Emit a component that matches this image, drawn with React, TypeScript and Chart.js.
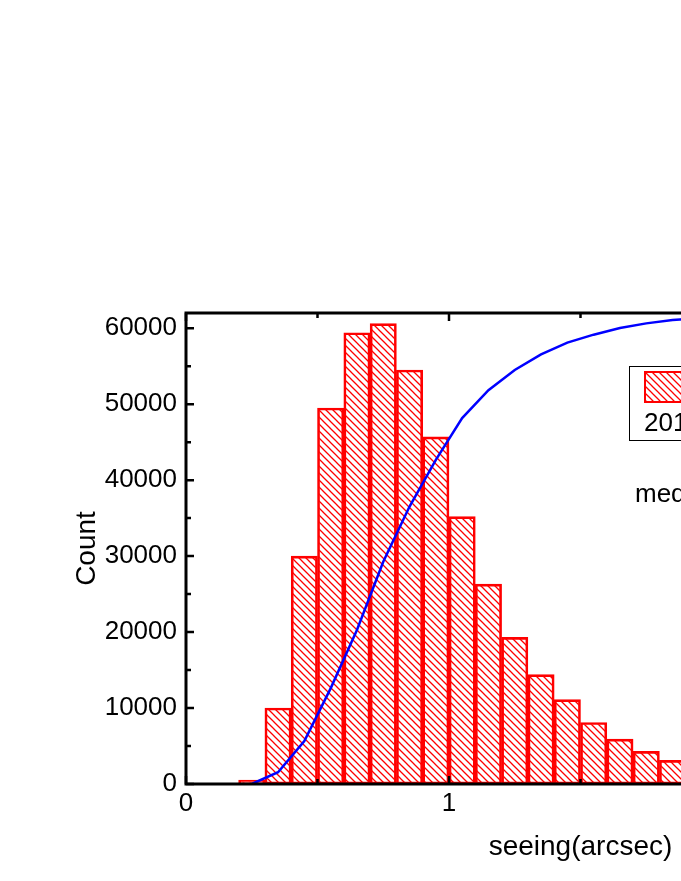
import React, { useEffect, useRef } from "react";
import { Chart, registerables } from "chart.js";

Chart.register(...registerables);

// ---- data ----
const binCenters = [
  0.25, 0.35, 0.45, 0.55, 0.65, 0.75, 0.85, 0.95, 1.05, 1.15, 1.25, 1.35, 1.45, 1.55,
  1.65, 1.75, 1.85, 1.95, 2.05, 2.15, 2.25, 2.35, 2.45, 2.55, 2.65, 2.75, 2.85, 2.95,
];
const counts = [
  500, 10000, 30000, 49500, 59400, 60600, 54500, 45700, 35200, 26300, 19300, 14400, 11100, 8100,
  5900, 4300, 3100, 2300, 1700, 1300, 1000, 750, 550, 400, 300, 250, 200, 150,
];
const cumulativePercent = [
  0, 2.5, 9.1, 20.3, 32.7, 47.2, 58.9, 68.8, 77.7, 83.6, 87.9, 91.2, 93.7, 95.4,
  96.8, 97.8, 98.5, 98.9, 99.2, 99.4, 99.6, 99.7, 99.8, 99.85, 99.9, 99.95, 100, 100,
];
const xTickValues = [0, 1, 2, 3];
const yTickValues = [0, 10000, 20000, 30000, 40000, 50000, 60000];
const xMin = 0;
const xMax = 3;
const yMin = 0;
const yMax = 62000;
const legendLabel = "2012";
const medianText = "median=0.80\"";
const xTitle = "seeing(arcsec)";
const yTitle = "Count";

const FONT = "'Liberation Sans', Arial, Helvetica, sans-serif";
const W = 1150;
const H = 873;

function makeHatch(): CanvasPattern | string {
  const p = document.createElement("canvas");
  p.width = 7;
  p.height = 7;
  const c = p.getContext("2d");
  if (!c) return "rgba(255,0,0,0.3)";
  c.strokeStyle = "#ff0000";
  c.lineWidth = 1.3;
  c.beginPath();
  c.moveTo(-2, -2);
  c.lineTo(9, 9);
  c.moveTo(-2, 5);
  c.lineTo(2, 9);
  c.moveTo(5, -2);
  c.lineTo(9, 2);
  c.stroke();
  const ctx = document.createElement("canvas").getContext("2d");
  return ctx ? (ctx.createPattern(p, "repeat") as CanvasPattern) : "rgba(255,0,0,0.3)";
}

export default function App() {
  const ref = useRef<HTMLCanvasElement | null>(null);

  useEffect(() => {
    document.documentElement.style.overflow = "hidden";
    const canvas = ref.current;
    if (!canvas) return;
    const hatch = makeHatch();

    const framePlugin = {
      id: "frame",
      afterDatasetsDraw(chart: any) {
        const { ctx, chartArea: a, scales } = chart;
        const xs = scales.x;
        const ys = scales.y;
        ctx.save();
        ctx.strokeStyle = "#000";
        ctx.lineWidth = 3;
        ctx.beginPath();
        ctx.rect(a.left, a.top, a.right - a.left, a.bottom - a.top);
        ctx.stroke();
        ctx.lineWidth = 2.5;
        ctx.beginPath();
        // major + minor x ticks (minor halfway between majors), inward on bottom and top
        for (let i = 0; i < xTickValues.length; i++) {
          const v = xTickValues[i];
          const px = xs.getPixelForValue(v);
          ctx.moveTo(px, a.bottom);
          ctx.lineTo(px, a.bottom - 8);
          ctx.moveTo(px, a.top);
          ctx.lineTo(px, a.top + 8);
          if (i < xTickValues.length - 1) {
            const pm = xs.getPixelForValue((v + xTickValues[i + 1]) / 2);
            ctx.moveTo(pm, a.bottom);
            ctx.lineTo(pm, a.bottom - 5);
            ctx.moveTo(pm, a.top);
            ctx.lineTo(pm, a.top + 5);
          }
        }
        for (let i = 0; i < yTickValues.length; i++) {
          const v = yTickValues[i];
          const py = ys.getPixelForValue(v);
          ctx.moveTo(a.left, py);
          ctx.lineTo(a.left + 8, py);
          ctx.moveTo(a.right, py);
          ctx.lineTo(a.right - 8, py);
          const next = i < yTickValues.length - 1 ? yTickValues[i + 1] : v + (v - yTickValues[i - 1]);
          const mv = (v + next) / 2;
          if (mv <= yMax) {
            const pm = ys.getPixelForValue(mv);
            ctx.moveTo(a.left, pm);
            ctx.lineTo(a.left + 5, pm);
            ctx.moveTo(a.right, pm);
            ctx.lineTo(a.right - 5, pm);
          }
        }
        ctx.stroke();
        ctx.restore();
      },
      afterDraw(chart: any) {
        const { ctx } = chart;
        ctx.save();
        // legend box
        const bx = 621.5;
        const by = 358.5;
        ctx.strokeStyle = "#000";
        ctx.lineWidth = 1;
        ctx.strokeRect(bx, by, 200, 74);
        // swatch
        ctx.fillStyle = hatch as any;
        ctx.fillRect(637, 364, 90, 30);
        ctx.strokeStyle = "#ff0000";
        ctx.lineWidth = 2;
        ctx.strokeRect(637, 364, 90, 30);
        ctx.fillStyle = "#000";
        ctx.textAlign = "left";
        ctx.textBaseline = "alphabetic";
        ctx.font = `26px ${FONT}`;
        ctx.fillText(legendLabel, 636, 423);
        ctx.fillText(medianText, 627, 494);
        ctx.restore();
      },
    };

    const chart = new Chart(canvas, {
      type: "bar",
      data: {
        datasets: [
          {
            type: "line",
            label: "cumulative",
            data: binCenters.map((x, i) => ({ x, y: cumulativePercent[i] })),
            yAxisID: "y1",
            borderColor: "#0000ff",
            borderWidth: 2.5,
            pointRadius: 0,
            tension: 0,
            fill: false,
            order: 0,
          } as any,
          {
            type: "bar",
            label: legendLabel,
            data: binCenters.map((x, i) => ({ x, y: counts[i] })),
            yAxisID: "y",
            backgroundColor: hatch as any,
            borderColor: "#ff0000",
            borderWidth: 2,
            borderSkipped: false,
            categoryPercentage: 1,
            barPercentage: 1,
            order: 1,
          } as any,
        ],
      },
      options: {
        responsive: false,
        animation: false,
        devicePixelRatio: 1,
        layout: { padding: { top: 305, left: 0, right: W - 967, bottom: H - 865 } },
        plugins: { legend: { display: false }, tooltip: { enabled: false } },
        scales: {
          x: {
            type: "linear",
            offset: false,
            min: xMin,
            max: xMax,
            grid: { display: false, drawTicks: false },
            border: { display: false },
            ticks: {
              color: "#000",
              font: { family: FONT, size: 26 },
              padding: 4,
              maxRotation: 0,
              autoSkip: false,
              callback: (v: any) => String(v),
            },
            afterBuildTicks: (s: any) => {
              s.ticks = xTickValues.map((v) => ({ value: v }));
            },
            title: {
              display: true,
              text: xTitle,
              color: "#000",
              font: { family: FONT, size: 28 },
              padding: { top: 0, bottom: 9 },
            },
            afterFit: (s: any) => {
              s.height = 89;
            },
          },
          y: {
            type: "linear",
            position: "left",
            min: yMin,
            max: yMax,
            grid: { display: false, drawTicks: false },
            border: { display: false },
            ticks: {
              color: "#000",
              font: { family: FONT, size: 26 },
              padding: 9,
              autoSkip: false,
              callback: (v: any) => String(v),
            },
            afterBuildTicks: (s: any) => {
              s.ticks = yTickValues.map((v) => ({ value: v }));
            },
            title: {
              display: true,
              text: yTitle,
              color: "#000",
              font: { family: FONT, size: 28 },
              padding: { top: 62, bottom: 0 },
            },
            afterFit: (s: any) => {
              s.width = 178;
            },
          },
          y1: {
            type: "linear",
            position: "right",
            display: false,
            min: 0,
            max: 100,
          },
        },
      },
      plugins: [framePlugin],
    } as any);

    return () => chart.destroy();
  }, []);

  return (
    <div
      style={{
        position: "fixed",
        left: 8,
        top: 8,
        width: 673,
        height: H,
        overflow: "hidden",
      }}
    >
      <canvas ref={ref} width={W} height={H} style={{ display: "block", width: W, height: H }} />
    </div>
  );
}
